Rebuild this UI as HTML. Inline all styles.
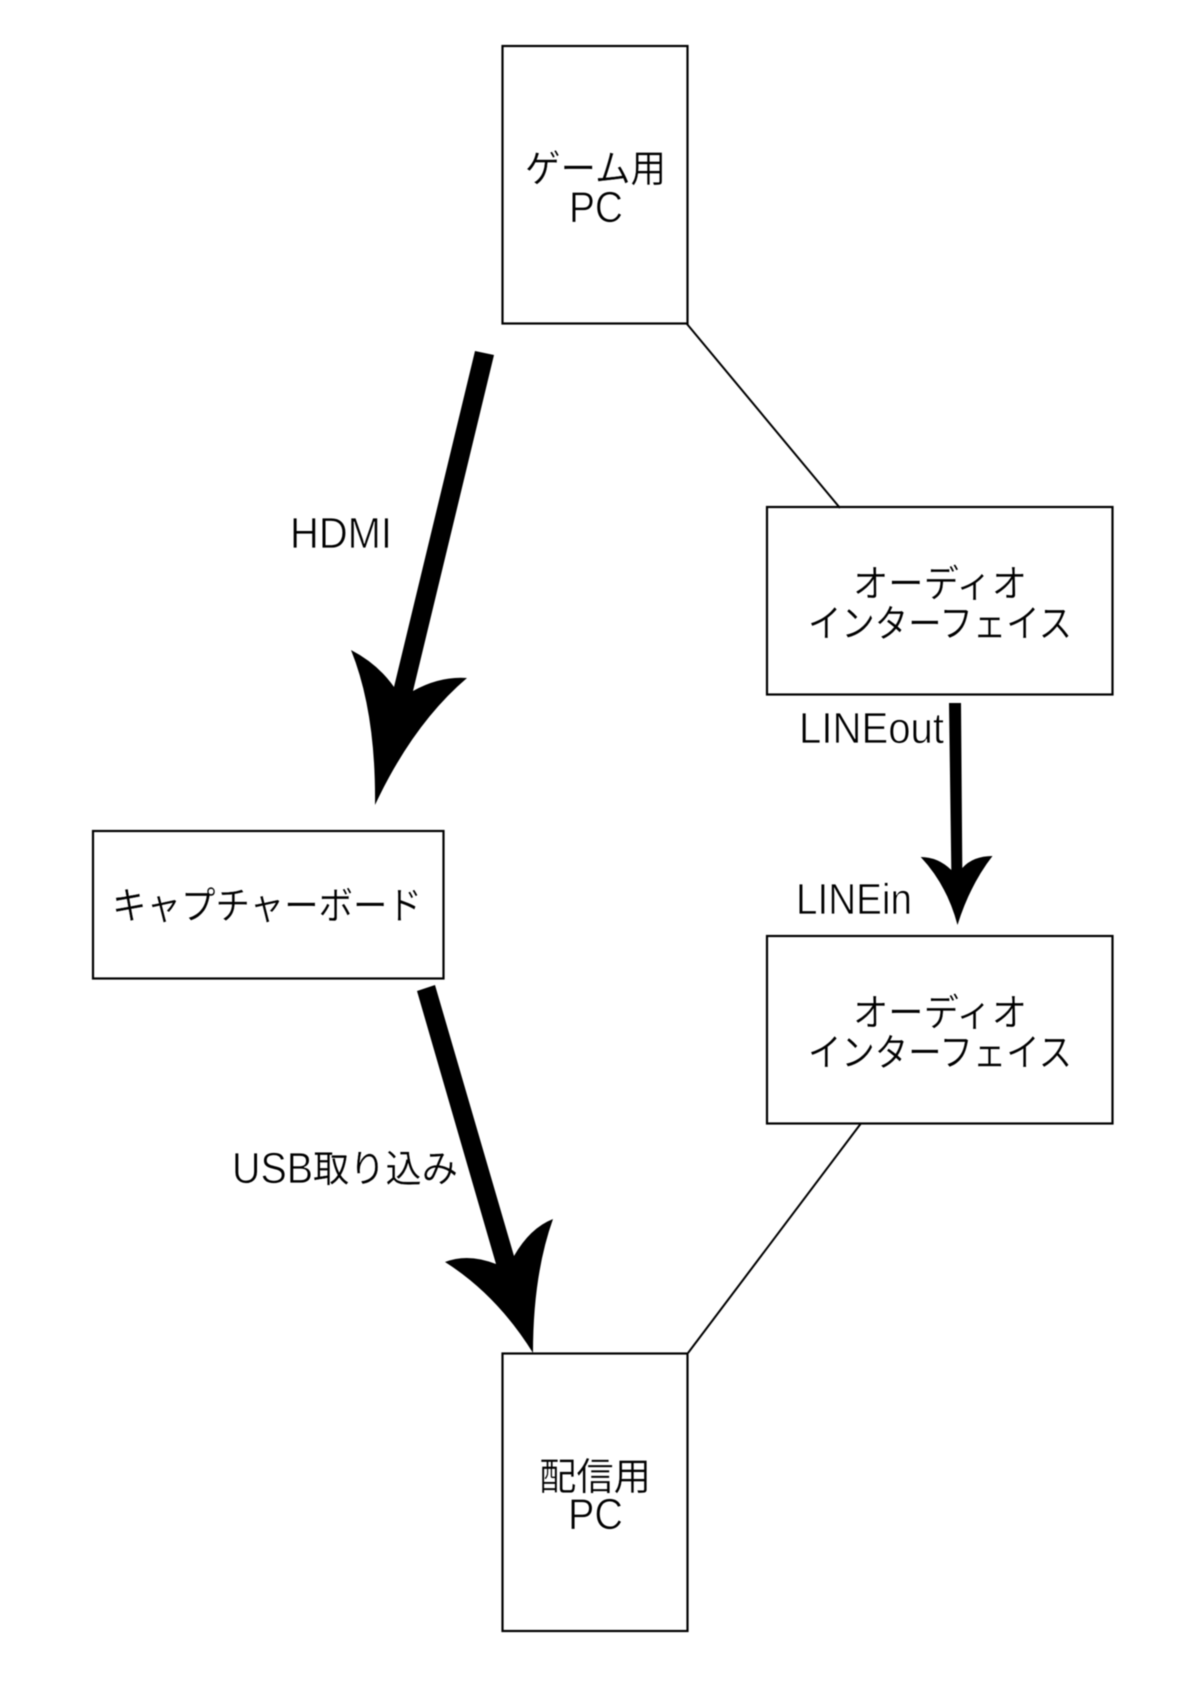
<!DOCTYPE html>
<html lang="ja">
<head>
<meta charset="utf-8">
<style>
html,body{margin:0;padding:0;background:#fff;width:1200px;height:1698px;overflow:hidden}
svg{display:block;filter:blur(0.4px)}
text{font-family:"Liberation Sans","Noto Sans CJK JP",sans-serif;fill:#000}
.j{font-family:"Noto Sans CJK JP","Liberation Sans",sans-serif;font-size:38px;font-weight:400;stroke:#fff;stroke-width:.3px}
.l{font-size:44px;stroke:#fff;stroke-width:.8px}
rect{fill:#fff;stroke:#000;stroke-width:2.2}
line{stroke:#000;stroke-width:2}
</style>
</head>
<body>
<svg xmlns="http://www.w3.org/2000/svg" width="1200" height="1698" viewBox="0 0 1200 1698">
<rect width="1200" height="1698" style="fill:#fff;stroke:none"/>
<rect x="502.5" y="46" width="185" height="277.5"/>
<rect x="767" y="507" width="345.5" height="187.5"/>
<rect x="767" y="936" width="345.5" height="187.5"/>
<rect x="93" y="831" width="350.5" height="147.5"/>
<rect x="502.5" y="1353.5" width="185" height="277.5"/>
<line x1="687" y1="324" x2="840" y2="508"/>
<line x1="860.5" y1="1124" x2="688" y2="1353"/>

<!-- HDMI arrow -->
<path fill="#000" d="M475 351 L494 355 L413 691 Q440 676 467 678 Q413 724 375 805 Q376 712 351 650 Q378 664 394 687 Z"/>
<!-- LINE arrow -->
<path fill="#000" d="M949 703 L961 703 L962.3 868 Q973 856 992.5 856 Q970 885 957.5 925 Q947 885 920.7 857 Q938 857 951.3 870 Z"/>
<!-- USB arrow -->
<path fill="#000" d="M417 991 L435 985 L514 1256 Q530 1228 553 1219 Q533 1275 533 1353 Q497 1295 445 1262 Q468 1253 496 1264 Z"/>

<text class="j" x="525" y="182" textLength="141" lengthAdjust="spacingAndGlyphs">ゲーム用</text>
<text class="l" x="569" y="222" textLength="54" lengthAdjust="spacingAndGlyphs">PC</text>
<text class="l" x="290" y="548" textLength="102" lengthAdjust="spacingAndGlyphs">HDMI</text>
<text class="j" x="112" y="919" textLength="310" lengthAdjust="spacingAndGlyphs">キャプチャーボード</text>
<text class="j" x="853" y="597" textLength="174" lengthAdjust="spacingAndGlyphs">オーディオ</text>
<text class="j" x="808" y="637" textLength="264" lengthAdjust="spacingAndGlyphs">インターフェイス</text>
<text class="j" x="853" y="1026" textLength="174" lengthAdjust="spacingAndGlyphs">オーディオ</text>
<text class="j" x="808" y="1066" textLength="264" lengthAdjust="spacingAndGlyphs">インターフェイス</text>
<text class="l" x="799" y="743" textLength="145" lengthAdjust="spacingAndGlyphs">LINEout</text>
<text class="l" x="796" y="914" textLength="116" lengthAdjust="spacingAndGlyphs">LINEin</text>
<text class="l" x="232" y="1183" textLength="81" lengthAdjust="spacingAndGlyphs">USB</text>
<text class="j" x="313" y="1182" textLength="145" lengthAdjust="spacingAndGlyphs">取り込み</text>
<text class="j" x="539" y="1490" textLength="112" lengthAdjust="spacingAndGlyphs">配信用</text>
<text class="l" x="568" y="1529" textLength="55" lengthAdjust="spacingAndGlyphs">PC</text>
</svg>
</body>
</html>
